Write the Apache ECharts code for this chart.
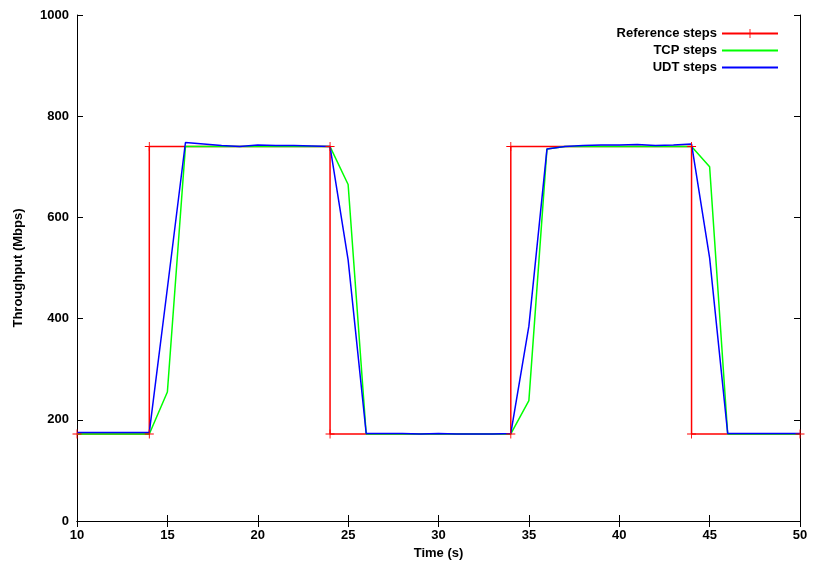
<!DOCTYPE html>
<html>
<head>
<meta charset="utf-8">
<script src="https://cdn.jsdelivr.net/npm/echarts@6/dist/echarts.min.js"></script>
<style>html,body{margin:0;padding:0;background:#fff}#chart{width:815px;height:581px}</style>
</head>
<body>
<div id="chart"></div>
<script>
const refSteps = [[10,172],[14,172],[14,740],[24,740],[24,172],[34,172],[34,740],[44,740],[44,172],[50,172]];
const times = [10,11,12,13,14,15,16,17,18,19,20,21,22,23,24,25,26,27,28,29,30,31,32,33,34,35,36,37,38,39,40,41,42,43,44,45,46,47,48,49,50];
const tcpValues = [172,172,172,172,172,255,740,740,740,740,740,740,740,740,740,665,172,172,172,172,172,172,172,172,172,238,735,740,740,740,740,740,740,740,740,700,172,172,172,172,172];
const udtValues = [175,175,175,175,175,460,748,745,742,740,743,742,742,741,740,516,173,173,173,172,173,172,172,172,173,385,735,740,742,743,743,744,742,743,745,520,173,173,173,173,173];

const pair = (vals) => times.map((t, i) => [t, vals[i]]);
const font = { fontFamily: "Liberation Sans, Arial", fontWeight: "bold", fontSize: 13, color: "#000" };
const plainLabel = Object.assign({ formatter: (v) => String(v) }, font);
const lineIcon = "path://M0,4.6H56V6.4H0Z";

const chart = echarts.init(document.getElementById("chart"));
chart.setOption({
  animation: false,
  grid: { left: 77, right: 15, top: 15, bottom: 60 },
  legend: {
    right: 31, top: 22, orient: "vertical", itemGap: 4, align: "right",
    itemWidth: 56, itemHeight: 11, textStyle: font,
    data: [
      "Reference steps",
      { name: "TCP steps", icon: lineIcon, itemStyle: { color: "#00ff00", borderWidth: 0 } },
      { name: "UDT steps", icon: lineIcon, itemStyle: { color: "#0000ff", borderWidth: 0 } }
    ]
  },
  xAxis: [
    {
      type: "value", min: 10, max: 50, interval: 5,
      name: "Time (s)", nameLocation: "middle", nameGap: 24, nameTextStyle: font,
      axisLine: { lineStyle: { color: "#000" } },
      axisTick: { inside: true, length: 6, lineStyle: { color: "#000" } },
      axisLabel: plainLabel, splitLine: { show: false }
    },
    {
      type: "value", min: 10, max: 50, interval: 5, position: "top",
      axisLine: { show: true, lineStyle: { color: "#000" } },
      axisTick: { inside: true, length: 6, lineStyle: { color: "#000" } },
      axisLabel: { show: false }, splitLine: { show: false }
    }
  ],
  yAxis: [
    {
      type: "value", min: 0, max: 1000, interval: 200,
      name: "Throughput (Mbps)", nameLocation: "middle", nameGap: 52, nameTextStyle: font,
      axisLine: { show: true, lineStyle: { color: "#000" } },
      axisTick: { show: true, inside: true, length: 6, lineStyle: { color: "#000" } },
      axisLabel: plainLabel, splitLine: { show: false }
    },
    {
      type: "value", min: 0, max: 1000, interval: 200, position: "right",
      axisLine: { show: true, lineStyle: { color: "#000" } },
      axisTick: { show: true, inside: true, length: 6, lineStyle: { color: "#000" } },
      axisLabel: { show: false }, splitLine: { show: false }
    }
  ],
  series: [
    {
      name: "Reference steps", type: "line", data: refSteps,
      symbol: "path://M0,4.5H10V5.5H0ZM4.5,0H5.5V10H4.5Z", symbolSize: 9,
      lineStyle: { color: "#ff0000", width: 1.5 },
      itemStyle: { color: "#ff0000", borderWidth: 0 }
    },
    {
      name: "TCP steps", type: "line", data: pair(tcpValues), symbol: "none",
      lineStyle: { color: "#00ff00", width: 1.5 }, itemStyle: { color: "#00ff00" }
    },
    {
      name: "UDT steps", type: "line", data: pair(udtValues), symbol: "none",
      lineStyle: { color: "#0000ff", width: 1.5 }, itemStyle: { color: "#0000ff" }
    }
  ]
});
</script>
</body>
</html>
